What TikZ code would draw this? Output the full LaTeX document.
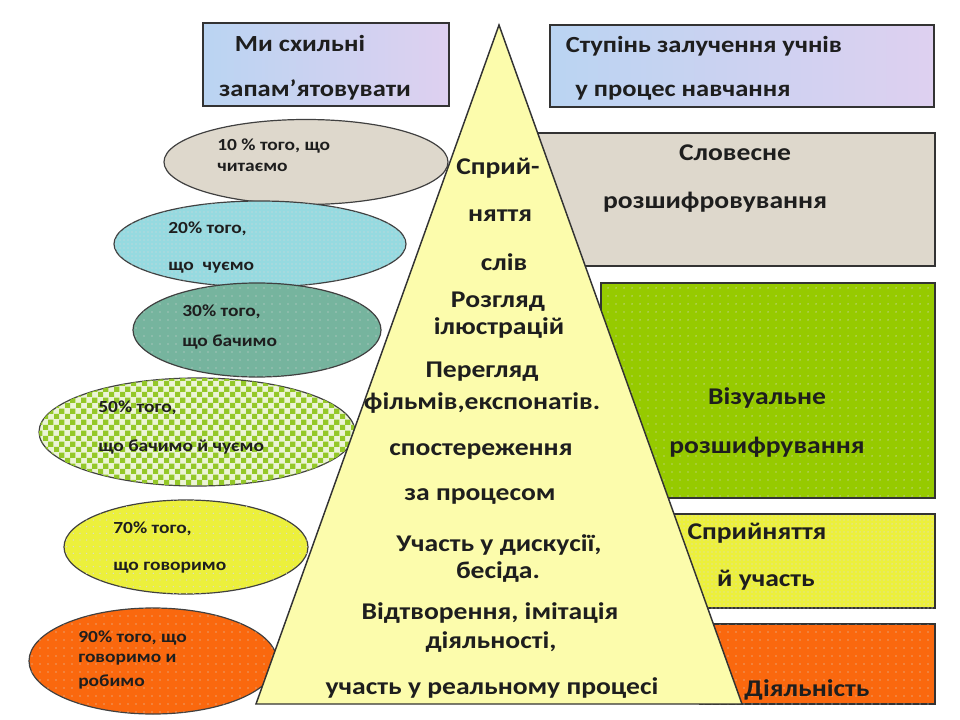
\documentclass[tikz,border=0pt]{standalone}
\usepackage{fontspec}
\setmainfont{Carlito}[FakeStretch=1.15]
\usetikzlibrary{shapes.geometric,patterns,patterns.meta,fit}

\definecolor{paper}{RGB}{222,216,204}
\definecolor{skyA}{RGB}{186,212,242}
\definecolor{skyB}{RGB}{222,208,240}
\definecolor{aqua}{RGB}{150,218,224}
\definecolor{sage}{RGB}{118,180,158}
\definecolor{lime}{RGB}{148,200,40}
\definecolor{limepale}{RGB}{236,244,214}
\definecolor{lemon}{RGB}{236,240,60}
\definecolor{tang}{RGB}{250,104,14}
\definecolor{grass}{RGB}{150,202,0}
\definecolor{pale}{RGB}{252,252,172}
\definecolor{ink}{RGB}{30,30,30}

\newcommand{\pxu}{0.75pt}
\pgfdeclarepatternformonly{checkers}{\pgfpointorigin}{\pgfpoint{8pt}{8pt}}{\pgfpoint{8pt}{8pt}}
{
  \pgfpathrectangle{\pgfpointorigin}{\pgfpoint{4pt}{4pt}}
  \pgfpathrectangle{\pgfpoint{4pt}{4pt}}{\pgfpoint{4pt}{4pt}}
  \pgfusepath{fill}
}

\tikzstyle{box}=[rectangle, draw=black!80, line width=1.1pt, inner sep=0pt]
\tikzstyle{blob}=[ellipse, draw=black!75, line width=0.9pt, inner sep=0pt]
\tikzstyle{annot}=[align=center, inner sep=0pt, text=ink, font=\bfseries\fontsize{18}{20}\selectfont]
\tikzstyle{head}=[annot, font=\bfseries\fontsize{17.3}{19}\selectfont]
\tikzstyle{small}=[anchor=west, inner sep=0pt, text=ink, font=\bfseries\fontsize{12.7}{14}\selectfont]
\tikzset{speckle/.style={postaction={pattern={Dots[distance=#1, radius=0.55pt]}, pattern color=white!85!black}}}

\begin{document}
\begin{tikzpicture}[x=0.75pt, y=-0.75pt]
	\useasboundingbox (0,0) rectangle (960,720);

	% headings
	\node[box, shading=axis, left color=skyA, right color=skyB, fit={(203,23) (449,106)}](remember){};
	\node[box, shading=axis, left color=skyA, right color=skyB, fit={(550,25) (934,107)}](degree){};
	\node[head](rem1) at (300,43){Ми схильні};
	\node[head](rem2) at (315,90){запам’ятовувати};
	\node[head](deg1) at (704,46){Ступінь залучення учнів};
	\node[head](deg2) at (683,93){у процес навчання};

	% ellipses
	\node[blob, fill=paper, minimum width=284*\pxu, minimum height=85*\pxu](read) at (306,162){};
	\node[blob, fill=aqua, speckle=3pt, minimum width=292*\pxu, minimum height=86*\pxu](hear) at (260,244){};
	\node[blob, fill=sage, speckle=6pt, minimum width=248*\pxu, minimum height=94*\pxu](see) at (257,330){};
	\node[blob, fill=limepale, minimum width=316*\pxu, minimum height=108*\pxu, postaction={pattern=checkers, pattern color=lime}](seehear) at (197,432){};
	\node[blob, fill=lemon, speckle=5pt, minimum width=244*\pxu, minimum height=94*\pxu](say) at (186,547){};
	\node[blob, fill=tang, speckle=6pt, minimum width=248*\pxu, minimum height=106*\pxu](sayDo) at (153,661){};

	\node[small](read1) at (217,146){10 \% того, що};
	\node[small](read2) at (217,167){читаємо};
	\node[small](hear1) at (168,229){20\% того,};
	\node[small](hear2) at (168,268){що~~чуємо};
	\node[small](see1) at (182,312){30\% того,};
	\node[small](see2) at (182,342){що бачимо};
	\node[small](seehear1) at (98,408){50\% того,};
	\node[small](seehear2) at (98,447){що бачимо й чуємо};
	\node[small](say1) at (113,529){70\% того,};
	\node[small](say2) at (113,568){що говоримо};
	\node[small](sayDo1) at (78,638){90\% того, що};
	\node[small](sayDo2) at (78,660){говоримо и};
	\node[small](sayDo3) at (78,682){робимо};

	% right column
	\node[box, fill=paper, fit={(530,133) (935,266)}](verbal){};
	\node[box, fill=grass, speckle=6pt, fit={(601,283) (935,498)}](visual){};
	\node[box, fill=lemon, speckle=3pt, fit={(665,514) (935,608)}](perceive){};
	\node[box, fill=tang, speckle=6pt, fit={(700,624) (935,704)}](activity){};

	% pyramid
	\coordinate (apex) at (499,25);
	\coordinate (baseL) at (256,704);
	\coordinate (baseR) at (742,704);
	\draw[fill=pale, draw=black!80, line width=1.1pt] (apex) -- (baseL) -- (baseR) -- cycle;

	\node[annot](verbal1) at (735,153){Словесне};
	\node[annot](verbal2) at (715,202){розшифровування};
	\node[annot](visual1) at (767,398){Візуальне};
	\node[annot](visual2) at (767,447){розшифрування};
	\node[annot](perceive1) at (757,533){Сприйняття};
	\node[annot](perceive2) at (766,580){й участь};
	\node[annot](activity1) at (807,690){Діяльність};

	\node[annot](t1) at (498,168){Сприй-};
	\node[annot](t2) at (500,216){няття};
	\node[annot](t3) at (504,262){слів};
	\node[annot](t4) at (498,302){Розгляд};
	\node[annot](t5) at (499,328){ілюстрацій};
	\node[annot](t6) at (482,372){Перегляд};
	\node[annot](t7) at (482,403){фільмів,експонатів.};
	\node[annot](t8) at (481,451){спостереження};
	\node[annot](t9) at (480,497){за процесом};
	\node[annot](t10) at (499,545){Участь у дискусії,};
	\node[annot](t11) at (498,572){бесіда.};
	\node[annot](t12) at (490,613){Відтворення, імітація};
	\node[annot](t13) at (491,642){діяльності,};
	\node[annot](t14) at (492,688){участь у реальному процесі};

\end{tikzpicture}
\end{document}
